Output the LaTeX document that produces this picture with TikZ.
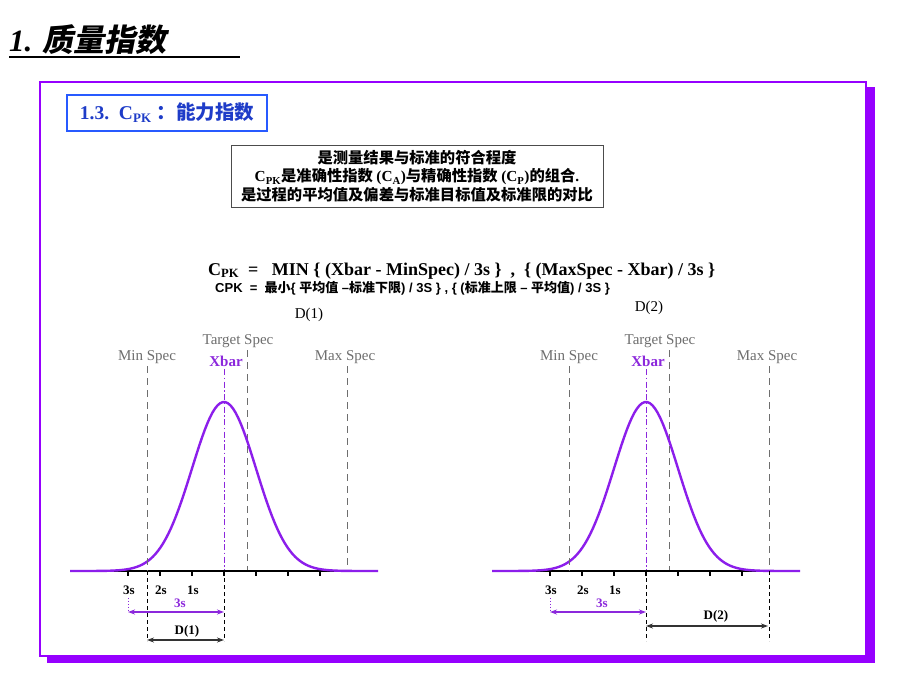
\documentclass[tikz,border=0pt]{standalone}
\usepackage{fontspec}
\setmainfont{Liberation Serif}
\setsansfont{Liberation Sans}
\newfontfamily\cjk{Noto Sans CJK SC}
\newfontfamily\cjkslant[FakeSlant=0.2]{Noto Sans CJK SC}
\usetikzlibrary{arrows.meta}
\definecolor{framepurple}{RGB}{150,0,255}
\definecolor{curvepurple}{RGB}{140,30,235}
\definecolor{xbarpurple}{RGB}{140,40,220}
\definecolor{boxblue}{RGB}{40,90,255}
\definecolor{textblue}{RGB}{30,60,200}
\definecolor{specgray}{RGB}{110,110,110}
\newcommand\zh[1]{{\cjk #1}}
\begin{document}
\begin{tikzpicture}[x=1pt,y=-1pt,
  speclbl/.style={text=specgray,font=\fontsize{15}{15}\selectfont,inner sep=0pt},
  xbarlbl/.style={text=xbarpurple,font=\bfseries\fontsize{15}{15}\selectfont,inner sep=0pt},
  ticklbl/.style={font=\bfseries\fontsize{13}{13}\selectfont,inner sep=0pt},
  dlbl/.style={font=\fontsize{15}{15}\selectfont,inner sep=0pt},
  specline/.style={draw=specgray,line width=0.9pt,dash pattern=on 7pt off 5pt},
  xbarline/.style={draw=xbarpurple,line width=0.9pt,dash pattern=on 6pt off 2.5pt on 1.5pt off 2.5pt},
  dropline/.style={draw=black,line width=0.8pt,dash pattern=on 4pt off 3pt},
  axisline/.style={draw=black,line width=1.4pt},
  tickmark/.style={draw=black,line width=1.8pt},
  curve/.style={draw=curvepurple,line width=2.4pt},
  sarrow/.style={draw=xbarpurple,line width=1.2pt,{Stealth[length=7pt,width=5pt]}-{Stealth[length=7pt,width=5pt]}},
  darrow/.style={draw=black!80,line width=1.2pt,{Stealth[length=7pt,width=5pt]}-{Stealth[length=7pt,width=5pt]}},
  sdot/.style={draw=xbarpurple,line width=0.9pt,dotted}
]
\useasboundingbox (0,0) rectangle (920,690);
% frame with shadow
\fill[framepurple] (47,87) rectangle (875,663);
\draw[framepurple,line width=1.6pt,fill=white] (40,82) rectangle (866,656);
% title
\node[anchor=base west,inner sep=0pt,font=\bfseries\itshape\fontsize{31}{31}\selectfont] (title) at (9,52) {1. {\cjkslant\bfseries 质量指数}};
\draw[line width=1.5pt] (9,57) -- (240,57);
% blue box
\node[draw=boxblue,line width=2.2pt,minimum width=200pt,minimum height=36pt,inner sep=0pt,text=textblue,font=\bfseries\fontsize{19.5}{19.5}\selectfont] (sec) at (167,113)
  {1.3.\ \ C\textsubscript{\fontsize{13}{13}\selectfont PK}\ {\cjk\bfseries ：能力指数}};
% description box
\node[draw=black!70,line width=1pt,minimum width=372pt,minimum height=62pt,inner sep=0pt,align=center,font=\bfseries\fontsize{15.3}{18.5}\selectfont] (desc) at (417,176)
  {\zh{\bfseries 是测量结果与标准的符合程度}\\
   C\textsubscript{PK}\zh{\bfseries 是准确性指数 }(C\textsubscript{A})\zh{\bfseries 与精确性指数 }(C\textsubscript{P})\zh{\bfseries 的组合}.\\
   \zh{\bfseries 是过程的平均值及偏差与标准目标值及标准限的对比}};
% formula
\node[anchor=base west,inner sep=0pt,font=\bfseries\fontsize{18}{18}\selectfont] (f1) at (208,275)
  {C\textsubscript{PK}\ \ =\ \ \ MIN \{ (Xbar - MinSpec) / 3s \}\ \ ,\ \ \{ (MaxSpec - Xbar) / 3s \}};
\node[anchor=base west,inner sep=0pt,font=\sffamily\bfseries\fontsize{13}{13}\selectfont] (f2) at (215,292)
  {CPK\ \ =\ \ {\cjk\bfseries 最小}\{ {\cjk\bfseries 平均值} –{\cjk\bfseries 标准下限}) / 3S \} , \{ ({\cjk\bfseries 标准上限} – {\cjk\bfseries 平均值}) / 3S \}};

\foreach \o/\n/\dy/\dx in {0/1/315/309, 422/2/308/649} {
  \begin{scope}[xshift=\o pt]
  % labels
  \node[dlbl] (dtop\n) at (\dx-\o,\dy) {D(\n)};
  \node[speclbl] (minlbl\n) at (147,357) {Min Spec};
  \node[speclbl] (tgtlbl\n) at (238,341) {Target Spec};
  \node[speclbl] (maxlbl\n) at (345,357) {Max Spec};
  \node[xbarlbl] (xbarlbl\n) at (226,361) {Xbar};
  % coordinates
  \coordinate (mint\n) at (147,366);
  \coordinate (minb\n) at (147,641);
  \coordinate (tgtt\n) at (247,350);
  \coordinate (tgtb\n) at (247,571);
  \coordinate (maxt\n) at (347,366);
  \coordinate (maxb\n) at (347,571);
  \coordinate (xbt\n) at (224,369);
  \coordinate (xbm\n) at (224,571);
  \coordinate (xbb\n) at (224,641);
  \coordinate (axl\n) at (70,571);
  \coordinate (axr\n) at (378,571);
  % spec lines
  \draw[specline] (tgtt\n) -- (tgtb\n);
  \draw[specline] (maxt\n) -- (maxb\n);
  \draw[xbarline] (xbt\n) -- (xbm\n);
  % axis and curve
  \draw[axisline] (axl\n) -- (axr\n);
  \draw[curve] plot[domain=70:378,samples=120] (\x,{571-169*exp(-0.5*((\x-224)/32)*((\x-224)/32))});
  \foreach \t in {128,160,192,224,256,288,320} {\draw[tickmark] (\t,572) -- (\t,576);}
  % tick labels
  \node[ticklbl] (s3\n) at (129,590) {3s};
  \node[ticklbl] (s2\n) at (161,590) {2s};
  \node[ticklbl] (s1\n) at (193,590) {1s};
  % 3s arrow
  \coordinate (sa\n) at (128,612);
  \coordinate (sb\n) at (224,612);
  \coordinate (sd\n) at (128,598);
  \draw[sdot] (sd\n) -- (sa\n);
  \draw[sarrow] (sa\n) -- (sb\n);
  \node[ticklbl,text=xbarpurple] (s3p\n) at (180,603) {3s};
  \end{scope}
}
% chart 1 D arrow
\draw[specline] (mint1) -- (147,571);
\draw[dropline] (147,571) -- (minb1);
\draw[dropline] (xbm1) -- (xbb1);
\coordinate (d1a) at (147,640);
\coordinate (d1b) at (224,640);
\draw[darrow] (d1a) -- (d1b);
\node[ticklbl] (d1l) at (187,631) {D(1)};
% chart 2
\draw[specline] (mint2) -- (569,571);
\draw[dropline] (xbm2) -- (xbb2);
\draw[dropline] (maxb2) -- (769,641);
\coordinate (d2a) at (646,626);
\coordinate (d2b) at (768,626);
\draw[darrow] (d2a) -- (d2b);
\node[ticklbl] (d2l) at (716,616) {D(2)};
\end{tikzpicture}
\end{document}
